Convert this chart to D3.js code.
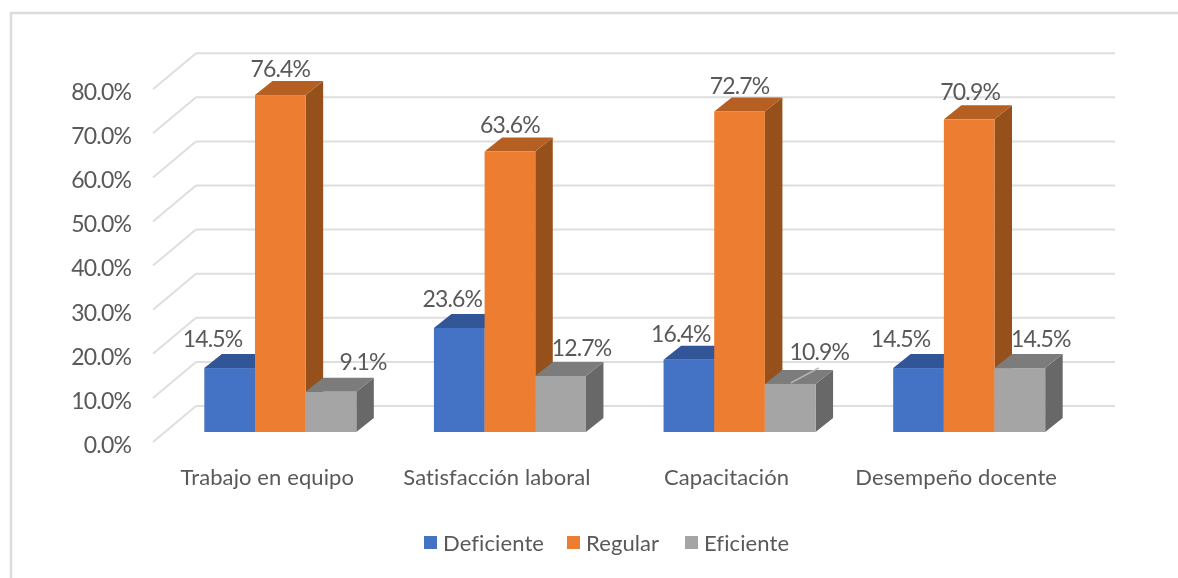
<!DOCTYPE html>
<html>
<head>
<meta charset="utf-8">
<script src="https://cdn.jsdelivr.net/npm/d3@7"></script>
<style>
  html, body { margin: 0; padding: 0; background: #fff; }
  text { font-family: Lato, "Open Sans", sans-serif; fill: #595959; }
  svg { filter: blur(0.4px); }
</style>
</head>
<body>
<div id="chart"></div>
<script>
// Data
const categories = ["Trabajo en equipo", "Satisfacción laboral", "Capacitación", "Desempeño docente"];
const seriesNames = ["Deficiente", "Regular", "Eficiente"];
const deficiente = [14.5, 23.6, 16.4, 14.5];
const regular = [76.4, 63.6, 72.7, 70.9];
const eficiente = [9.1, 12.7, 10.9, 14.5];
const yTicks = [0, 10, 20, 30, 40, 50, 60, 70, 80];

const seriesValues = [deficiente, regular, eficiente];

// Front, top and side colours of each series
const colors = [
    {front: "#4472c4", top: "#315597", side: "#2a4a85"},
    {front: "#ed7d31", top: "#b55f23", side: "#95501b"},
    {front: "#a5a5a5", top: "#7c7c7c", side: "#686868"}
];

const width = 1178, height = 578;

const svg = d3.select("#chart")
    .append("svg")
    .attr("width", width)
    .attr("height", height)
    .style("display", "block");

// Scales
const y = d3.scaleLinear().domain([0, 80]).range([432, 79.2]);
const x = d3.scaleBand().domain(categories).range([165.5, 1084]);
const groupWidth = 152;
const x1 = d3.scaleBand().domain(seriesNames)
    .range([(x.bandwidth() - groupWidth) / 2, (x.bandwidth() + groupWidth) / 2]);

// 3D offsets
const barDx = 17.5, barDy = -14;
const wallLeft = 196, wallRight = 1115, wallDx = 43, wallDy = -36;
const wallY = v => y(v) - 26;

// Outer frame (only top and left show)
svg.append("path")
    .attr("d", "M11,578V13H1178")
    .attr("fill", "none")
    .attr("stroke", "#dcdcdc")
    .attr("stroke-width", 2.5);

// Gridlines on back wall and left wall
const grid = svg.append("g").attr("fill", "none").attr("stroke", "#dedede").attr("stroke-width", 2);
grid.selectAll(".back")
    .data(yTicks)
    .enter().append("line")
    .attr("x1", wallLeft)
    .attr("x2", wallRight)
    .attr("y1", wallY)
    .attr("y2", wallY);
grid.selectAll(".diag")
    .data(yTicks)
    .enter().append("line")
    .attr("x1", wallLeft - wallDx)
    .attr("x2", wallLeft)
    .attr("y1", d => wallY(d) - wallDy)
    .attr("y2", wallY);

// Y axis
const yAxis = d3.axisLeft(y)
    .tickValues(yTicks)
    .tickSize(0)
    .tickPadding(0)
    .tickFormat(d => d.toFixed(1) + "%");

svg.append("g")
    .attr("transform", "translate(131,13)")
    .call(yAxis)
    .call(g => g.select(".domain").remove())
    .selectAll("text")
    .style("font-family", "Lato, sans-serif")
    .style("font-size", "23px")
    .style("letter-spacing", "-0.85px");

// Bars, left to right so the next bar hides the previous side
const bars = [];
categories.forEach((c, i) => {
    seriesNames.forEach((s, j) => {
        bars.push({cat: c, i: i, series: s, j: j, value: seriesValues[j][i]});
    });
});

const barG = svg.selectAll(".bar")
    .data(bars)
    .enter().append("g")
    .attr("class", "bar");

const bx = d => x(d.cat) + x1(d.series);
const bw = x1.bandwidth();

barG.append("path")
    .attr("fill", d => colors[d.j].side)
    .attr("d", d => {
        const r = bx(d) + bw, t = y(d.value), b = y(0);
        return `M${r},${t}l${barDx},${barDy}V${b + barDy}L${r},${b}Z`;
    });
barG.append("path")
    .attr("fill", d => colors[d.j].top)
    .attr("d", d => {
        const l = bx(d), t = y(d.value);
        return `M${l},${t}l${barDx},${barDy}h${bw}l${-barDx},${-barDy}Z`;
    });
barG.append("rect")
    .attr("fill", d => colors[d.j].front)
    .attr("x", bx)
    .attr("y", d => y(d.value))
    .attr("width", bw)
    .attr("height", d => y(0) - y(d.value));

// Gridline fragment that shows through the grey bar of Capacitación
const stray = bars.find(d => d.i === 2 && d.j === 2);
svg.append("line")
    .attr("x1", bx(stray) + 26)
    .attr("y1", y(stray.value) - 1)
    .attr("x2", bx(stray) + 54)
    .attr("y2", y(stray.value) - 16)
    .attr("stroke", "#b9b9b9")
    .attr("stroke-width", 1.5);

// Data labels, nudged by hand as in the original [dx, dy from the bar's top centre]
const labelNudge = [
    [[-17, -29], [0, -26], [32, -30]],
    [[-7, -29], [0, -27], [21, -28]],
    [[-8, -26], [0, -25], [29, -32]],
    [[-18, -29], [1, -27], [21, -29]]
];

svg.selectAll(".label")
    .data(bars)
    .enter().append("text")
    .attr("class", "label")
    .attr("x", d => bx(d) + bw / 2 + labelNudge[d.i][d.j][0])
    .attr("y", d => y(d.value) + labelNudge[d.i][d.j][1])
    .attr("dy", ".35em")
    .attr("text-anchor", "middle")
    .style("font-size", "23px")
    .style("letter-spacing", "-0.85px")
    .text(d => d.value.toFixed(1) + "%");

// Category labels
svg.selectAll(".cat")
    .data(categories)
    .enter().append("text")
    .attr("class", "cat")
    .attr("x", d => x(d) + x.bandwidth() / 2 - 13)
    .attr("y", 477)
    .attr("dy", ".35em")
    .attr("text-anchor", "middle")
    .style("font-size", "22px")
    .style("letter-spacing", "0.1px")
    .text(d => d);

// Legend
const legendX = [424, 567, 685];
const legend = svg.selectAll(".legend")
    .data(seriesNames)
    .enter().append("g")
    .attr("class", "legend")
    .attr("transform", (d, i) => "translate(" + legendX[i] + ",536)");

legend.append("rect")
    .attr("width", 13)
    .attr("height", 13)
    .attr("fill", (d, i) => colors[i].front);

legend.append("text")
    .attr("x", 19)
    .attr("y", 7)
    .attr("dy", ".35em")
    .style("font-size", "22px")
    .style("letter-spacing", "0.1px")
    .text(d => d);
</script>
</body>
</html>
